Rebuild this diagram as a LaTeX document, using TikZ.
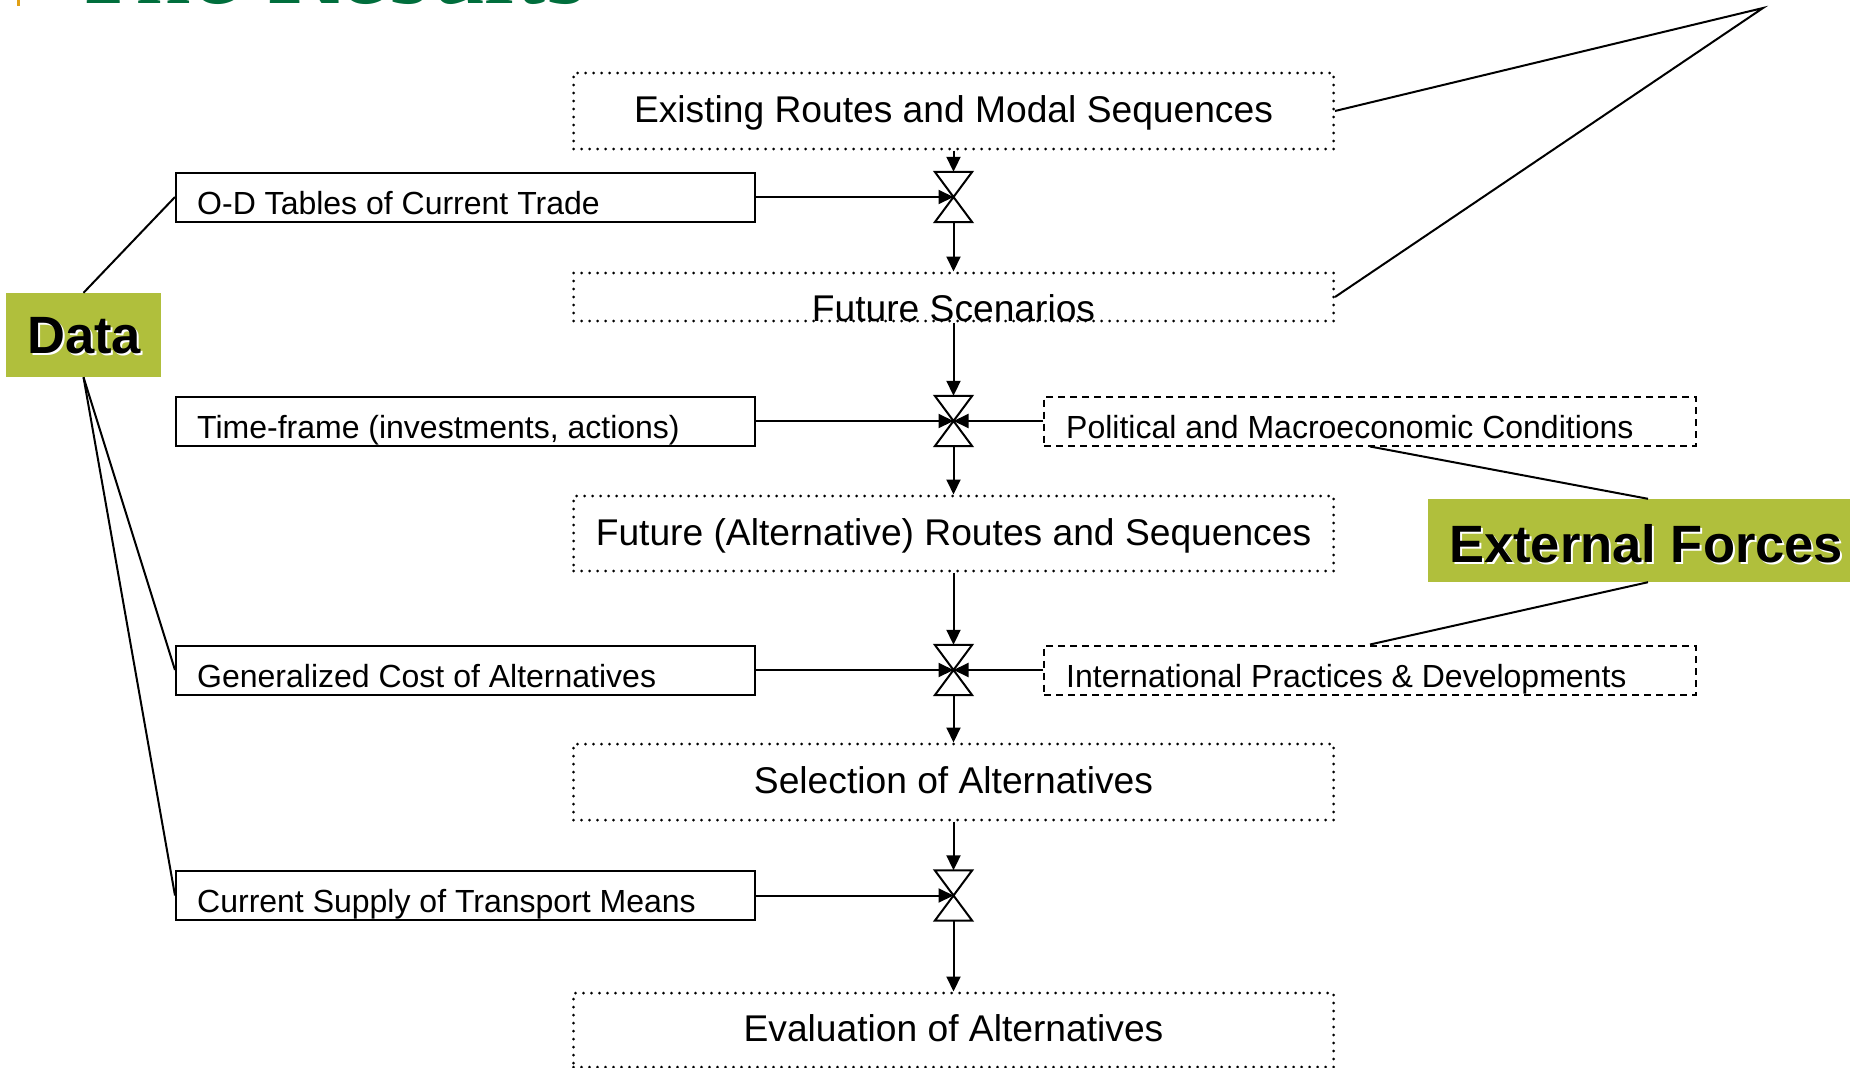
\documentclass[tikz,border=0pt]{standalone}
\usepackage{fontspec}
\setmainfont{Liberation Sans}
\newfontfamily\titlefont{Liberation Serif}
\usetikzlibrary{arrows.meta}
\definecolor{labelgreen}{RGB}{176,191,60}
\definecolor{titlegreen}{RGB}{0,110,60}
\definecolor{barorange}{RGB}{225,160,20}
\tikzset{
 dotbox/.style={draw, line width=3pt, dash pattern=on 0pt off 8pt, line cap=round, inner sep=0, minimum width=760pt},
 solidbox/.style={draw, line width=2pt, inner sep=0, minimum width=579pt, minimum height=49pt},
 dashbox/.style={draw, line width=2pt, dash pattern=on 7pt off 5pt, inner sep=0, minimum width=652pt, minimum height=49pt},
 valve/.style={fill=white, inner sep=0, minimum width=37pt, minimum height=50pt},
 hourglass/.style={line width=2pt, line join=miter},
 bigtext/.style={font=\fontsize{37.2}{44}\selectfont, anchor=base, inner sep=0},
 smalltext/.style={font=\fontsize{32}{38}\selectfont, anchor=base west, inner sep=0},
 arr/.style={line width=2pt, -{Triangle[length=15pt,width=14pt]}},
 conn/.style={line width=2pt},
 tag/.style={fill=labelgreen, inner sep=0},
 tagtext/.style={font=\fontsize{52.5}{60}\selectfont\bfseries, inner sep=0},
}
\begin{document}
\begin{tikzpicture}[x=1pt,y=-1pt]
\useasboundingbox (0,0) rectangle (1850,1068);
\clip (0,0) rectangle (1850,1068);

% partially visible title
\fill[barorange] (17,0) rectangle (20,6);
\node[anchor=base west, text=titlegreen, font=\titlefont\fontsize{109}{120}\selectfont, inner sep=0] (title) at (70,3) {The Results};

% main boxes
\node[dotbox, minimum height=76pt] (exist) at (953.5,111) {};
\node[dotbox, minimum height=48pt] (fs) at (953.5,297) {};
\node[dotbox, minimum height=75pt] (fa) at (953.5,533.5) {};
\node[dotbox, minimum height=76pt] (sel) at (953.5,782) {};
\node[dotbox, minimum height=74pt] (ev) at (953.5,1030) {};

% left data boxes
\node[solidbox] (od) at (465.5,197) {};
\node[solidbox] (tf) at (465.5,421) {};
\node[solidbox] (gc) at (465.5,670) {};
\node[solidbox] (cs) at (465.5,895.5) {};

% right external boxes
\node[dashbox] (pol) at (1370,421) {};
\node[dashbox] (intl) at (1370,670) {};

% valves
\node[valve] (v1) at (953.5,197) {};
\node[valve] (v2) at (953.5,421) {};
\node[valve] (v3) at (953.5,670) {};
\node[valve] (v4) at (953.5,895.5) {};
\foreach \v in {v1,v2,v3,v4}
  \draw[hourglass] (\v.north west) -- (\v.north east) -- (\v.south west) -- (\v.south east) -- cycle;

% vertical flow
\draw[arr] (exist.south) -- (v1.north);
\draw[arr] (v1.south) -- (fs.north);
\draw[arr] (fs.south) -- (v2.north);
\draw[arr] (v2.south) -- (fa.north);
\draw[arr] (fa.south) -- (v3.north);
\draw[arr] (v3.south) -- (sel.north);
\draw[arr] (sel.south) -- (v4.north);
\draw[arr] (v4.south) -- (ev.north);

% horizontal inputs
\draw[arr] (od.east) -- (v1.center);
\draw[arr] (tf.east) -- (v2.center);
\draw[arr] (pol.west) -- (v2.center);
\draw[arr] (gc.east) -- (v3.center);
\draw[arr] (intl.west) -- (v3.center);
\draw[arr] (cs.east) -- (v4.center);

% texts
\node[bigtext] (t-exist) at (953.5,122) {Existing Routes and Modal Sequences};
\node[bigtext] (t-fs) at (953.5,321) {Future Scenarios};
\node[bigtext] (t-fa) at (953.5,545) {Future (Alternative) Routes and Sequences};
\node[bigtext] (t-sel) at (953.5,793) {Selection of Alternatives};
\node[bigtext] (t-ev) at (953.5,1041) {Evaluation of Alternatives};
\node[smalltext] (t-od) at (197,214) {O-D Tables of Current Trade};
\node[smalltext] (t-tf) at (197,438) {Time-frame (investments, actions)};
\node[smalltext] (t-gc) at (197,687) {Generalized Cost of Alternatives};
\node[smalltext] (t-cs) at (197,912) {Current Supply of Transport Means};
\node[smalltext] (t-pol) at (1066,438) {Political and Macroeconomic Conditions};
\node[smalltext] (t-intl) at (1066,687) {International Practices \& Developments};

% Data tag
\node[tag, minimum width=155pt, minimum height=84pt] (data) at (83.5,335) {};
\node[tagtext, anchor=base, text=white] (data-sh) at (86,355) {Data};
\node[tagtext, anchor=base, text=black] (data-t) at (84,353) {Data};
\draw[conn] (data.north) -- (od.west);
\draw[conn] (data.south) -- (gc.west);
\draw[conn] (data.south) -- (cs.west);

% External Forces tag
\node[tag, minimum width=432pt, minimum height=83pt] (ext) at (1644,540.5) {};
\node[tagtext, anchor=base west, text=white] (ext-sh) at (1451,564) {External Forces};
\node[tagtext, anchor=base west, text=black] (ext-t) at (1449,562) {External Forces};
\draw[conn] (pol.south) -- ([xshift=4pt]ext.north);
\draw[conn] ([xshift=4pt]ext.south) -- (intl.north);

% top right connector
\coordinate (apex) at (1763,8);
\draw[conn] (exist.east) -- (apex) -- (fs.east);
\end{tikzpicture}
\end{document}
